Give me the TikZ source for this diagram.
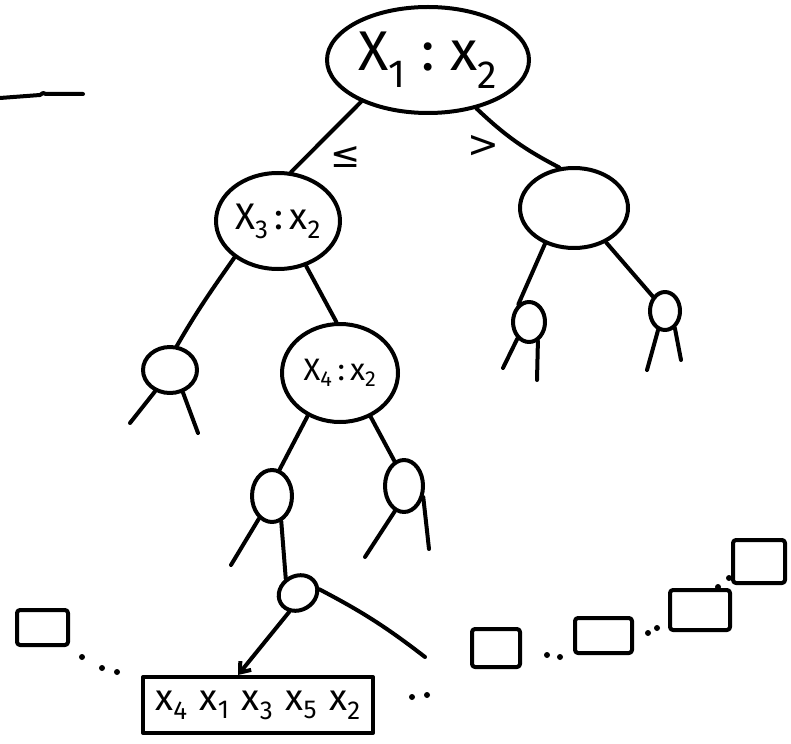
\documentclass[tikz,border=0pt]{standalone}
\usepackage{fontspec}
\setmainfont{Fira Sans}
\newfontfamily\symfont{DejaVu Sans}
\usetikzlibrary{shapes.geometric,arrows.meta}
\begin{document}
\begin{tikzpicture}[x=1pt,y=-1pt,
  pen/.style={line width=4pt, line cap=round, line join=round},
  blob/.style={pen, draw, ellipse, inner sep=0pt},
  sq/.style={pen, draw, rectangle, rounded corners=3pt, inner sep=0pt},
  dot/.style={circle, fill, inner sep=0pt, minimum size=6pt},
  lbl/.style={inner sep=0pt},
]
\useasboundingbox (0,0) rectangle (791,743);

% top-left stroke
\coordinate (tl1) at (0,98);
\coordinate (tl2) at (83,94);
\draw[pen] (tl1) -- (40,95) -- (43,93) -- (46,94) -- (tl2);

% tree nodes
\node[blob, minimum width=202pt, minimum height=106pt] (root) at (428,60)
  {\fontsize{56}{56}\selectfont X\textsubscript{1}\;:\;x\textsubscript{2}};
\node[blob, minimum width=124pt, minimum height=96pt] (n3) at (278,221)
  {\fontsize{37}{37}\selectfont X\textsubscript{3}\,:\,x\textsubscript{2}};
\node[blob, minimum width=108pt, minimum height=80pt] (nR) at (574,208) {};
\node[blob, minimum width=32pt, minimum height=40pt] (nRL) at (529,322) {};
\node[blob, minimum width=30pt, minimum height=38pt] (nRR) at (665,311) {};
\node[blob, minimum width=54pt, minimum height=46pt] (nL3) at (170,370) {};
\node[blob, minimum width=116pt, minimum height=98pt] (n4) at (340,373)
  {\fontsize{31}{31}\selectfont X\textsubscript{4}\,:\,x\textsubscript{2}};
\node[blob, minimum width=40pt, minimum height=52pt] (n4L) at (272,496) {};
\node[blob, minimum width=38pt, minimum height=52pt] (n4R) at (404,486) {};
\node[blob, minimum width=40pt, minimum height=34pt, rotate=30] (nB) at (298,593) {};
\node[pen, draw, rectangle, inner sep=0pt, minimum width=230pt, minimum height=56pt] (box) at (258,705)
  {\fontsize{37}{37}\selectfont x\textsubscript{4}\,\,x\textsubscript{1}\,\,x\textsubscript{3}\,\,x\textsubscript{5}\,\,x\textsubscript{2}};

% edge labels
\node[lbl] (le) at (346,157) {\fontsize{36}{36}\selectfont\symfont ≤};
\node[lbl] (gt) at (483,146) {\fontsize{38}{38}\selectfont\symfont >};

% edges
\draw[pen] (root.212) -- (n3.75);
\draw[pen] (root.315) to[bend right=8] (nR.110);
\draw[pen] (nR.231) -- (nRL.121);
\draw[pen] (nR.313) -- (nRR.130);
\draw[pen] (n3.220) to[out=235,in=60] (nL3.74);
\draw[pen] (n3.302) -- (n4.94);
\draw[pen] (n4.233) -- (n4L.74);
\draw[pen] (n4.305) -- (n4R.111);
\draw[pen] (n4L.290) -- (nB.100);
\draw[pen, -{Straight Barb[length=9pt,width=14pt]}] (nB.215) -- ([xshift=-20pt]box.north);

% free-ended strokes
\coordinate (e1) at (231,565);
\draw[pen] (n4L.240) -- (e1);
\coordinate (e2) at (425,657);
\draw[pen] (nB.340) to[bend left=5] (e2);

% legs
\coordinate (a1) at (130,423); \coordinate (a2) at (198,433);
\draw[pen] (nL3.235) -- (a1);
\draw[pen] (nL3.300) -- (a2);
\coordinate (b1) at (365,557); \coordinate (b2) at (429,549);
\draw[pen] (n4R.250) -- (b1);
\draw[pen] (n4R.330) -- (b2);
\coordinate (c1) at (503,368); \coordinate (c2) at (537,380);
\draw[pen] (nRL.235) -- (c1);
\draw[pen] (nRL.295) -- (c2);
\coordinate (d1) at (647,370); \coordinate (d2) at (681,360);
\draw[pen] (nRR.250) -- (d1);
\draw[pen] (nRR.300) -- (d2);

% squares
\node[sq, minimum width=51pt, minimum height=35pt] (s0) at (42.5,627.5) {};
\node[sq, minimum width=48pt, minimum height=38pt] (s1) at (496,648) {};
\node[sq, minimum width=57pt, minimum height=35pt] (s2) at (603.5,635.5) {};
\node[sq, minimum width=60pt, minimum height=40pt] (s3) at (700,610) {};
\node[sq, minimum width=52pt, minimum height=43pt] (s4) at (759,561.5) {};

% dots
\node[dot] (p1) at (82,657) {};
\node[dot] (p2) at (102,668) {};
\node[dot] (p3) at (117,672) {};
\node[dot] (p4) at (412,697) {};
\node[dot] (p5) at (427,695) {};
\node[dot] (p6) at (547,655) {};
\node[dot] (p7) at (560,657) {};
\node[dot] (p8) at (648,633) {};
\node[dot] (p9) at (657,628) {};
\node[dot] (p10) at (718,587) {};
\node[dot] (p11) at (729,578) {};
\end{tikzpicture}
\end{document}
